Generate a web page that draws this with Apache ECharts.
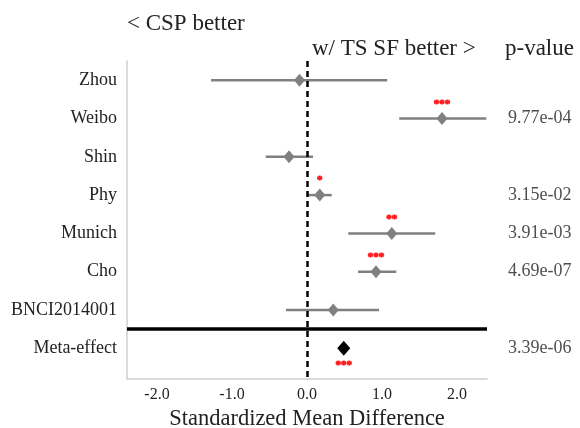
<!DOCTYPE html>
<html>
<head>
<meta charset="utf-8">
<script src="https://cdn.jsdelivr.net/npm/echarts@6/dist/echarts.min.js"></script>
<style>
  html, body { margin: 0; padding: 0; background: #fff; }
  #main { width: 580px; height: 428px; }
</style>
</head>
<body>
<div id="main"></div>
<script>
// forest plot data, row order top to bottom
const studies = ['Zhou', 'Weibo', 'Shin', 'Phy', 'Munich', 'Cho', 'BNCI2014001', 'Meta-effect']
const estimate = [-0.10, 1.80, -0.24, 0.17, 1.13, 0.92, 0.35, 0.49]
const ciLow = [-1.28, 1.23, -0.55, 0.01, 0.55, 0.68, -0.28]
const ciHigh = [1.07, 2.39, 0.08, 0.33, 1.71, 1.19, 0.96]
const stars = ['', '***', '', '*', '**', '***', '', '***']
const pValues = ['', '9.77e-04', '', '3.15e-02', '3.91e-03', '4.69e-07', '', '3.39e-06']
const xTicks = [-2, -1, 0, 1, 2]

const serif = '"Liberation Serif", "DejaVu Serif", serif'
const ink = '#222'
const grey = '#808080'
const metaRow = studies.length - 1

const errBars = ciLow.map((lo, i) => [lo, ciHigh[i], i])
const studyPts = ciLow.map((_, i) => [estimate[i], i])
const metaPt = [[estimate[metaRow], metaRow]]
const starPts = []
stars.forEach((s, i) => {
    if (s) starPts.push({ value: [estimate[i], i], star: s,
        label: { position: i === metaRow ? 'bottom' : 'top', distance: i === metaRow ? 11 : 9 } })
})
const pPts = []
pValues.forEach((p, i) => { if (p) pPts.push({ value: [2.4, i], p: p }) })

const chart = echarts.init(document.getElementById('main'))
chart.setOption({
    animation: false,
    backgroundColor: '#fff',
    grid: { left: 127, right: 93, top: 61, bottom: 49, outerBoundsMode: 'none', containLabel: false },
    xAxis: {
        type: 'value', min: -2.4, max: 2.4,
        axisLine: { show: true, onZero: false, lineStyle: { color: '#cfcfcf', width: 1.5 } },
        axisTick: { show: false },
        splitLine: { show: false },
        axisLabel: { customValues: xTicks, formatter: v => v.toFixed(1),
            fontFamily: serif, fontSize: 16, color: ink, margin: 8 },
        name: 'Standardized Mean Difference', nameLocation: 'middle', nameGap: 24,
        nameTextStyle: { fontFamily: serif, fontSize: 22.5, color: ink }
    },
    yAxis: {
        type: 'value', inverse: true, min: -0.5, max: 7.8, interval: 0.5,
        axisLine: { show: true, onZero: false, lineStyle: { color: '#cfcfcf', width: 1.5 } },
        axisTick: { show: false },
        splitLine: { show: false },
        axisLabel: { formatter: v => Number.isInteger(v) && studies[v] ? studies[v] : '',
            fontFamily: serif, fontSize: 18, color: ink, margin: 10, showMinLabel: true, showMaxLabel: true }
    },
    graphic: [
        { type: 'text', left: 127, top: 12, style: { text: '< CSP better', font: '23px ' + serif, fill: ink } },
        { type: 'text', left: 312, top: 37, style: { text: 'w/ TS SF better >', font: '23px ' + serif, fill: ink } },
        { type: 'text', left: 505, top: 37, style: { text: 'p-value', font: '23px ' + serif, fill: ink } }
    ],
    series: [
        {
            type: 'custom',
            data: errBars,
            encode: { x: [0, 1], y: 2 },
            renderItem: (params, api) => {
                const a = api.coord([api.value(0), api.value(2)])
                const b = api.coord([api.value(1), api.value(2)])
                return { type: 'line', shape: { x1: a[0], y1: a[1], x2: b[0], y2: b[1] },
                    style: { stroke: grey, lineWidth: 2.5 } }
            },
            z: 2
        },
        {
            type: 'scatter', data: studyPts, symbol: 'diamond', symbolSize: [11, 13],
            itemStyle: { color: grey, opacity: 1 }, z: 3
        },
        {
            type: 'scatter', data: metaPt, symbol: 'diamond', symbolSize: [13, 15],
            itemStyle: { color: '#000', opacity: 1 }, z: 3
        },
        {
            type: 'scatter', data: starPts, symbolSize: 0, z: 4,
            label: { show: true, formatter: p => p.data.star, color: '#ff0000',
                fontFamily: serif, fontSize: 11, fontWeight: 'bold',
                textBorderColor: '#ff0000', textBorderWidth: 0.8 }
        },
        {
            type: 'scatter', data: pPts, symbolSize: 0, z: 4,
            label: { show: true, position: 'right', distance: 21, formatter: p => p.data.p,
                color: ink, fontFamily: serif, fontSize: 18 },
            markLine: {
                silent: true, symbol: 'none', label: { show: false },
                data: [
                    { xAxis: 0, lineStyle: { type: [6, 4], color: '#000', width: 2.5 } },
                    { yAxis: 6.5, lineStyle: { type: 'solid', color: '#000', width: 3.5 } }
                ]
            }
        }
    ]
})
</script>
</body>
</html>
